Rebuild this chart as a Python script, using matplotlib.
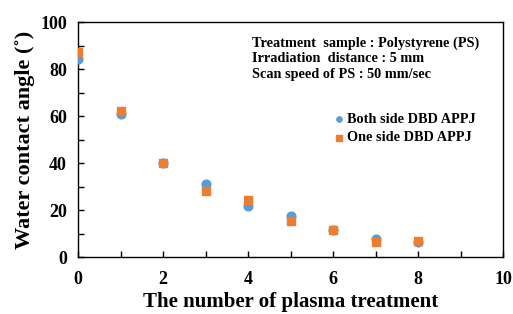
import matplotlib.pyplot as plt
from matplotlib.ticker import MultipleLocator

plt.rcParams['font.family'] = ['Liberation Serif', 'DejaVu Serif']
plt.rcParams['font.weight'] = 'bold'

treat = [0, 1, 2, 3, 4, 5, 6, 7, 8]
both_side = [84.1, 61.0, 40.0, 30.9, 21.7, 17.4, 11.3, 7.8, 6.4]
one_side = [87.2, 62.1, 40.0, 28.1, 24.3, 15.2, 11.3, 6.3, 6.7]

fig = plt.figure(figsize=(5.13, 3.14), dpi=100)
ax = fig.add_axes([78/513, 1 - 257/314, 425/513, 235/314])

ax.scatter(treat, both_side, s=40, marker='o', color='#5B9BD5', label='Both side DBD APPJ', zorder=3)
ax.scatter(treat, one_side, s=40, marker='s', color='#ED7D31', label='One side DBD APPJ', zorder=3)

ax.set_xlim(0, 10)
ax.set_ylim(0, 100)
ax.xaxis.set_major_locator(MultipleLocator(2))
ax.xaxis.set_minor_locator(MultipleLocator(1))
ax.yaxis.set_major_locator(MultipleLocator(20))
ax.yaxis.set_minor_locator(MultipleLocator(10))
ax.tick_params(which='both', direction='in', labelsize=13, width=1, length=4)
ax.tick_params(axis='x', pad=10)
ax.tick_params(axis='y', pad=8)
for lab in ax.get_xticklabels() + ax.get_yticklabels():
    lab.set_fontweight('bold')
for sp in ax.spines.values():
    sp.set_linewidth(1.0)

ax.set_xlabel('The number of plasma treatment', fontsize=15, fontweight='bold', labelpad=3)
ax.set_ylabel('Water contact angle (\u02da)', fontsize=16, fontweight='bold', labelpad=4)

ax.text(0.41, 0.94, 'Treatment  sample : Polystyrene (PS)\nIrradiation  distance : 5 mm\nScan speed of PS : 50 mm/sec',
        transform=ax.transAxes, fontsize=10.3, fontweight='bold', va='top', ha='left', linespacing=1.25)

ax.legend(loc='upper left', bbox_to_anchor=(0.58, 0.645), frameon=False,
          handletextpad=0.1, handlelength=1.0, markerscale=0.6, borderpad=0, labelspacing=0.4,
          prop={'weight': 'bold', 'size': 10.3})

fig.savefig('out.png', dpi=100)
